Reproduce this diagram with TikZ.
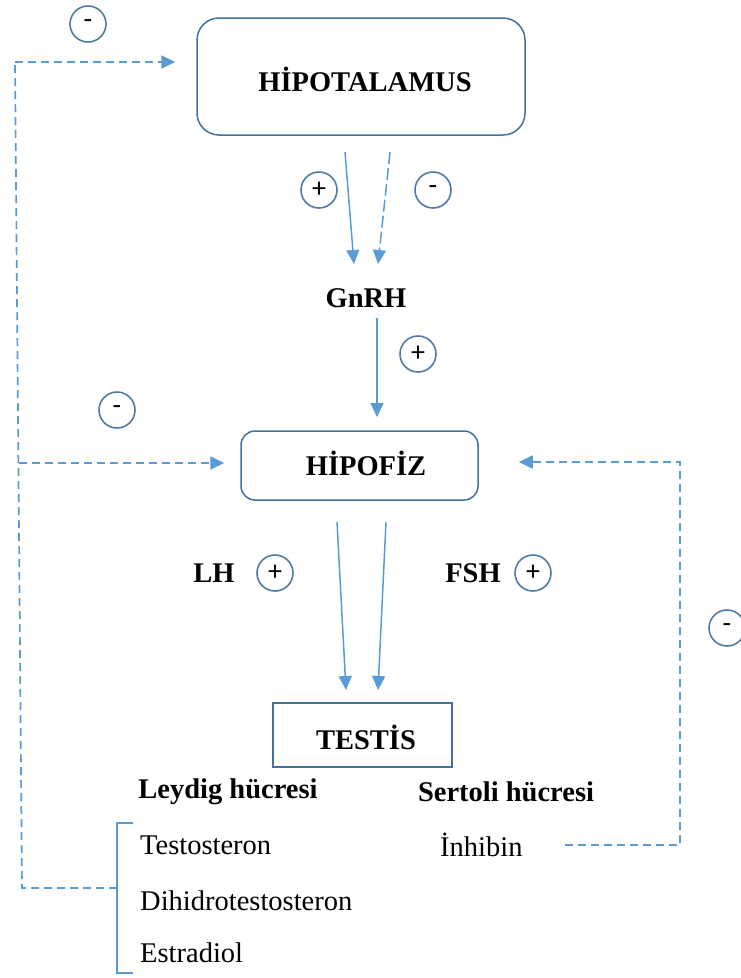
\documentclass[tikz,border=0pt]{standalone}
\usepackage{fontspec}
\setmainfont{Liberation Serif}
\newfontfamily\signfont{Carlito}
\usetikzlibrary{arrows.meta}
\definecolor{boxblue}{HTML}{41719C}
\definecolor{arrblue}{HTML}{5B9BD5}
\definecolor{circblue}{HTML}{4F7BA6}
\tikzset{
  organ/.style={draw=boxblue, line width=1.5pt, rounded corners=#1, inner sep=0pt},
  plainbox/.style={draw=boxblue, line width=1.5pt, inner sep=0pt},
  bigtxt/.style={font=\fontsize{28.5}{32}\selectfont\bfseries, inner sep=0pt},
  lbl/.style={font=\fontsize{28.5}{32}\selectfont\bfseries, inner sep=0pt},
  reg/.style={font=\fontsize{28.5}{32}\selectfont, inner sep=0pt, anchor=west},
  sign/.style={circle, draw=circblue, line width=1.6pt, minimum size=36pt, inner sep=0pt, font=\signfont\fontsize{28}{28}\selectfont},
  hormarr/.style={draw=arrblue, line width=1.5pt, -{Triangle[length=14pt,width=13pt]}},
  fbarr/.style={draw=arrblue, line width=1.7pt, dash pattern=on 8pt off 5pt, -{Triangle[length=14pt,width=13pt]}},
  fbline/.style={draw=arrblue, line width=1.7pt, dash pattern=on 8pt off 5pt},
  brkline/.style={draw=arrblue, line width=1.7pt},
}
\begin{document}
\begin{tikzpicture}[x=1pt,y=-1pt]
\useasboundingbox (0,0) rectangle (740,978);
% boxes
\node[organ=22pt, minimum width=328pt, minimum height=117pt] (hip) at (361,76.5) {};
\node[bigtxt] (hiptxt) at (365,79) {HİPOTALAMUS};
\node[organ=14pt, minimum width=237pt, minimum height=69pt] (hfz) at (359.5,465.5) {};
\node[bigtxt] (hfztxt) at (366,463) {HİPOFİZ};
\node[plainbox, minimum width=179pt, minimum height=64pt] (tes) at (362.5,735) {};
\node[bigtxt] (testxt) at (366,737) {TESTİS};
% labels
\node[lbl] (gnrh) at (366,298) {GnRH};
\node[lbl] (lh) at (214,573) {LH};
\node[lbl] (fsh) at (473,573) {FSH};
\node[lbl] (leydig) at (228,792) {Leydig hücresi};
\node[lbl] (sertoli) at (506,792) {Sertoli hücresi};
\node[reg] (testo) at (140,845) {Testosteron};
\node[reg] (dht) at (140,901) {Dihidrotestosteron};
\node[reg] (estr) at (140,953) {Estradiol};
\node[reg] (inh) at (440,845) {İnhibin};
% signs
\node[sign] (s1) at (88,24) {-};
\node[sign] (s2) at (319,190) {+};
\node[sign] (s3) at (433,190) {-};
\node[sign] (s4) at (418,354) {+};
\node[sign] (s5) at (117,410) {-};
\node[sign] (s6) at (275,573) {+};
\node[sign] (s7) at (533,573) {+};
\node[sign] (s8) at (727,628) {-};
% coordinates for connectors
\coordinate (a1s) at (345,152);
\coordinate (a1e) at (354,264);
\coordinate (a2s) at (390,152);
\coordinate (a2e) at (378,264);
\coordinate (g1s) at (377,318);
\coordinate (g1e) at (377,417);
\coordinate (l1s) at (337,522);
\coordinate (l1e) at (346,690);
\coordinate (f1s) at (386,522);
\coordinate (f1e) at (378,690);
% hormonal arrows
\draw[hormarr] (a1s) -- (a1e);
\draw[hormarr, dash pattern=on 12pt off 4pt] (a2s) -- (a2e);
\draw[hormarr] (g1s) -- (g1e);
\draw[hormarr] (l1s) -- (l1e);
\draw[hormarr] (f1s) -- (f1e);
% bracket
\coordinate (bt) at (133,823);
\coordinate (bb) at (133,973);
\coordinate (brk) at (117,888);
\draw[brkline] (bt) -- (117,823) -- (117,973) -- (bb);
% left feedback
\coordinate (lcorner) at (22,888);
\coordinate (ltop) at (15,62);
\coordinate (lmid) at (19,463);
\draw[fbline] (brk) -- (lcorner) -- (ltop);
\draw[fbarr] (ltop) -- ([xshift=-21pt]hip.west |- ltop);
\draw[fbarr] (lmid) -- ([xshift=-16pt]hfz.west |- lmid);
% right feedback
\coordinate (rs) at (565,845);
\coordinate (rc1) at (680,845);
\coordinate (rc2) at (680,462);
\draw[fbarr] (rs) -- (rc1) -- (rc2) -- ([xshift=40pt]hfz.east |- rc2);
\end{tikzpicture}
\end{document}
